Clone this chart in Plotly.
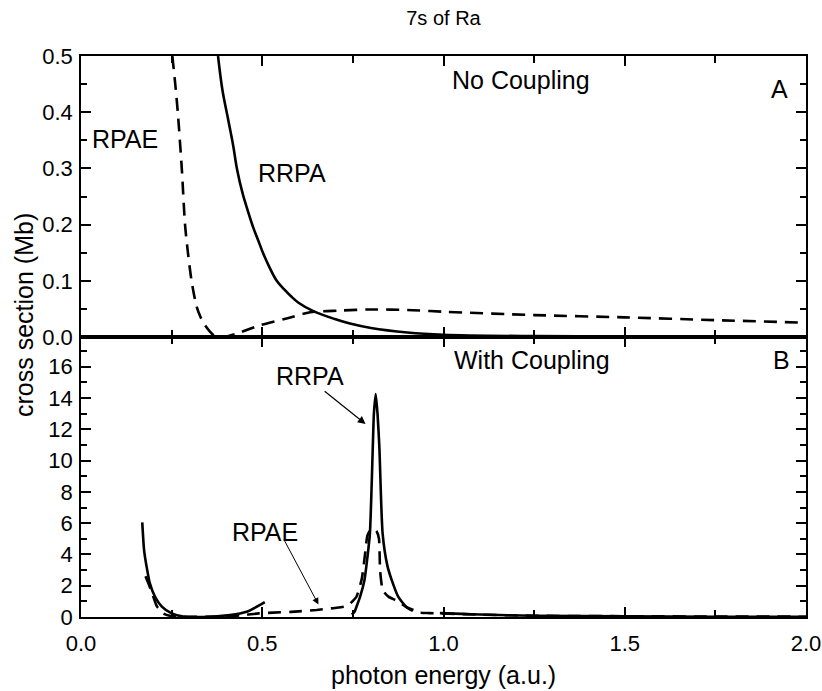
import plotly.graph_objects as go

# ---------------- data ----------------
# Panel A (No Coupling)
a_rrpa_x = [0.378, 0.39, 0.405, 0.42, 0.43, 0.446, 0.46, 0.475, 0.49, 0.503, 0.52, 0.54, 0.56, 0.58, 0.60, 0.641, 0.70, 0.742, 0.80, 0.90, 1.00, 1.25, 1.5, 1.75, 2.0]
a_rrpa_y = [0.50, 0.44, 0.39, 0.34, 0.30, 0.255, 0.225, 0.195, 0.17, 0.148, 0.124, 0.10, 0.085, 0.072, 0.061, 0.046, 0.032, 0.024, 0.016, 0.008, 0.004, 0.0015, 0.001, 0.0008, 0.0006]

a_rpae_x = [0.252, 0.26, 0.267, 0.278, 0.287, 0.295, 0.305, 0.319, 0.33, 0.342, 0.355, 0.365, 0.38, 0.40, 0.434, 0.494, 0.567, 0.632, 0.714, 0.80, 0.90, 1.00, 1.25, 1.5, 1.75, 2.0]
a_rpae_y = [0.50, 0.45, 0.40, 0.30, 0.20, 0.15, 0.10, 0.054, 0.035, 0.021, 0.01, 0.004, 0.0005, 0.001, 0.007, 0.021, 0.033, 0.044, 0.047, 0.049, 0.048, 0.045, 0.039, 0.035, 0.030, 0.0255]

# Panel B (With Coupling); None separates unconnected pieces
b_rrpa_x = [0.169, 0.174, 0.181, 0.190, 0.204, 0.223, 0.250, 0.282, 0.337, 0.411, 0.457, 0.494, 0.507, None,
            0.747, 0.755, 0.76, 0.77, 0.782, 0.79, 0.797, 0.805, 0.808, 0.813, 0.818, 0.823, 0.832, 0.845, 0.857, 0.875, 0.897, 0.917, None,
            0.99, 1.05, 1.1, 1.25, 1.5, 1.75, 2.0]
b_rrpa_y = [6.05, 4.28, 3.22, 2.15, 1.30, 0.66, 0.23, 0.03, 0.0, 0.13, 0.34, 0.77, 0.95, None,
            0.15, 0.35, 0.66, 1.3, 2.37, 3.8, 5.35, 10.9, 13.0, 14.26, 13.0, 10.9, 5.35, 3.3, 2.37, 1.3, 0.66, 0.45, None,
            0.25, 0.2, 0.16, 0.08, 0.04, 0.02, 0.01]

b_rpae_x = [0.178, 0.185, 0.195, 0.209, 0.227, 0.245, 0.27, 0.30, 0.35, 0.40, 0.45, 0.49, 0.53, 0.58, 0.65, 0.70, 0.735, 0.76, 0.775, 0.785, 0.79, 0.80, 0.81, 0.815, 0.822, 0.825, 0.830, 0.836, 0.848, 0.87, 0.89, 0.91, 0.925, 0.96, 1.0, 1.1, 1.25, 1.5, 1.75, 2.0]
b_rpae_y = [2.6, 2.2, 1.6, 0.7, 0.23, 0.08, 0.02, 0.01, 0.01, 0.03, 0.12, 0.23, 0.28, 0.33, 0.45, 0.58, 0.72, 1.3, 2.5, 4.3, 5.2, 5.6, 5.6, 5.5, 5.0, 3.0, 2.0, 1.6, 1.3, 1.05, 0.75, 0.45, 0.3, 0.25, 0.22, 0.15, 0.08, 0.05, 0.03, 0.02]

x_range = [0, 2.0]
a_range = [0, 0.5]
b_range = [0, 17.9]

# ---------------- figure ----------------
FONT = "Liberation Sans, Arial, sans-serif"
LW = 2.6
DASH = "13px,8px"

fig = go.Figure()
fig.add_trace(go.Scatter(x=a_rrpa_x, y=a_rrpa_y, mode="lines", xaxis="x", yaxis="y",
                         line=dict(color="black", width=LW, shape="spline", smoothing=1.0),
                         showlegend=False, hoverinfo="skip"))
fig.add_trace(go.Scatter(x=a_rpae_x, y=a_rpae_y, mode="lines", xaxis="x", yaxis="y",
                         line=dict(color="black", width=LW, dash=DASH, shape="spline", smoothing=0.8),
                         showlegend=False, hoverinfo="skip"))
fig.add_trace(go.Scatter(x=b_rrpa_x, y=b_rrpa_y, mode="lines", xaxis="x2", yaxis="y2", connectgaps=False,
                         line=dict(color="black", width=LW, shape="spline", smoothing=0.6),
                         showlegend=False, hoverinfo="skip"))
fig.add_trace(go.Scatter(x=b_rpae_x, y=b_rpae_y, mode="lines", xaxis="x2", yaxis="y2",
                         line=dict(color="black", width=LW, dash=DASH, shape="spline", smoothing=0.5),
                         showlegend=False, hoverinfo="skip"))

split = 280 / 561

axis_common = dict(showline=True, linecolor="black", linewidth=1.5, mirror="allticks",
                   ticks="inside", ticklen=10, tickwidth=1.5, tickcolor="black",
                   showgrid=False, zeroline=False, automargin=False,
                   tickfont=dict(family=FONT, size=22, color="black"))

fig.update_layout(
    width=822, height=691,
    margin=dict(l=81, r=16, t=56, b=74),
    paper_bgcolor="white", plot_bgcolor="white",
    title=dict(text="7s of Ra", x=(81 + 806) / 2 / 822, xanchor="center", y=1 - 18 / 691, yanchor="middle",
               font=dict(family=FONT, size=20, color="black")),
    xaxis=dict(domain=[0, 1], anchor="y", range=x_range, dtick=0.5, showticklabels=False,
               minor=dict(ticks="inside", dtick=0.25, ticklen=7, tickwidth=1.5, tickcolor="black"),
               **axis_common),
    yaxis=dict(domain=[split, 1], anchor="x", range=a_range, dtick=0.1, tickformat=".1f",
               ticklabelstandoff=2,
               minor=dict(ticks="inside", dtick=0.05, ticklen=6, tickwidth=1.5, tickcolor="black"),
               **axis_common),
    xaxis2=dict(domain=[0, 1], anchor="y2", range=x_range, dtick=0.5, tickformat=".1f", matches="x",
                minor=dict(ticks="inside", dtick=0.25, ticklen=7, tickwidth=1.5, tickcolor="black"),
                ticklabelstandoff=6,
                **axis_common),
    yaxis2=dict(domain=[0, split], anchor="x2", range=b_range, dtick=2,
                ticklabelstandoff=2,
                minor=dict(ticks="inside", dtick=1, ticklen=6, tickwidth=1.5, tickcolor="black"),
                **axis_common),
)

# x-axis title
fig.add_annotation(text="photon energy (a.u.)", xref="paper", yref="paper", x=0.5, y=(617 - 675) / 561,
                   showarrow=False, xanchor="center", yanchor="middle",
                   font=dict(family=FONT, size=25, color="black"))
# shared y-axis title (centred a little above the panel split, as in the original)
fig.add_annotation(text="cross section (Mb)", xref="paper", yref="paper", x=(24 - 81) / 725, y=(617 - 315) / 561,
                   textangle=-90, showarrow=False, xanchor="center", yanchor="middle",
                   font=dict(family=FONT, size=25, color="black"))

TF = dict(family=FONT, size=25, color="black")
# Panel A labels
fig.add_annotation(text="RPAE", x=0.122, y=0.352, xref="x", yref="y", showarrow=False, font=TF)
fig.add_annotation(text="RRPA", x=0.581, y=0.292, xref="x", yref="y", showarrow=False, font=TF)
fig.add_annotation(text="No Coupling", x=1.213, y=0.457, xref="x", yref="y", showarrow=False, font=TF)
fig.add_annotation(text="A", x=1.928, y=0.441, xref="x", yref="y", showarrow=False, font=TF)
# Panel B labels
fig.add_annotation(text="With Coupling", x=1.243, y=16.4, xref="x2", yref="y2", showarrow=False, font=TF)
fig.add_annotation(text="B", x=1.933, y=16.45, xref="x2", yref="y2", showarrow=False, font=TF)
fig.add_annotation(text="RRPA", x=0.632, y=15.43, xref="x2", yref="y2", showarrow=False, font=TF)
fig.add_annotation(text="RPAE", x=0.508, y=5.45, xref="x2", yref="y2", showarrow=False, font=TF)
# arrows
fig.add_annotation(text="", x=0.785, y=12.34, ax=0.668, ay=14.51, xref="x2", yref="y2", axref="x2", ayref="y2",
                   showarrow=True, arrowhead=2, arrowsize=1.3, arrowwidth=1.2, arrowcolor="black", standoff=0)
fig.add_annotation(text="", x=0.655, y=0.8, ax=0.558, ay=5.03, xref="x2", yref="y2", axref="x2", ayref="y2",
                   showarrow=True, arrowhead=2, arrowsize=1.3, arrowwidth=1.0, arrowcolor="black", standoff=0)

fig.write_html("out.html")
